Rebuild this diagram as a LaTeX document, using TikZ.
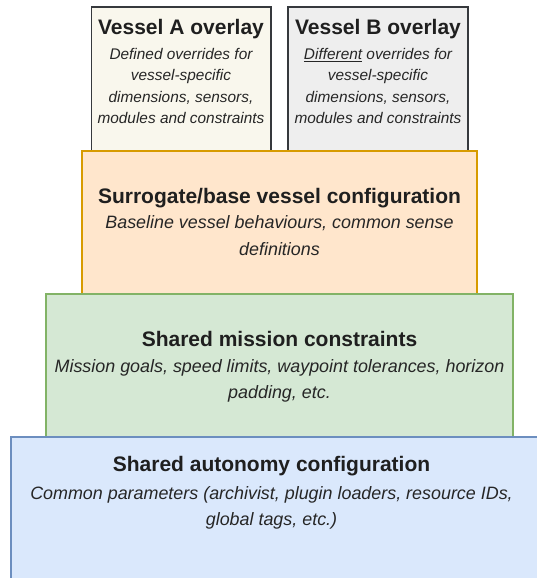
\documentclass[tikz,border=0pt]{standalone}
\usepackage{fontspec}
\setmainfont{Liberation Sans}
\definecolor{afill}{HTML}{F9F7ED}
\definecolor{bfill}{HTML}{EEEEEE}
\definecolor{vdraw}{HTML}{36393D}
\definecolor{ofill}{HTML}{FFE6CC}
\definecolor{odraw}{HTML}{D79B00}
\definecolor{gfill}{HTML}{D5E8D4}
\definecolor{gdraw}{HTML}{82B366}
\definecolor{lfill}{HTML}{DAE8FC}
\definecolor{ldraw}{HTML}{6C8EBF}
\tikzset{
  boxrect/.style={draw, line width=1.2pt, inner sep=0pt, outer sep=0pt},
  ttl/.style={inner sep=0pt, anchor=base, text=black!88, font=\fontsize{21}{25}\selectfont\bfseries},
  vbody/.style={inner sep=0pt, anchor=base, text=black!85, font=\fontsize{15.4}{21}\selectfont\itshape},
  lbody/.style={inner sep=0pt, anchor=base, text=black!85, font=\fontsize{17.9}{27}\selectfont\itshape},
}
\begin{document}
\begin{tikzpicture}[x=1pt,y=-1pt]
\useasboundingbox (0,0) rectangle (537,578);
\clip (0,0) rectangle (537,578);
% vessel boxes
\node[boxrect, fill=afill, draw=vdraw, minimum width=179.3pt, minimum height=144pt] (va) at (181.35,79) {};
\node[boxrect, fill=bfill, draw=vdraw, minimum width=180pt, minimum height=144pt] (vb) at (378,79) {};
% orange
\node[boxrect, fill=ofill, draw=odraw, minimum width=395pt, minimum height=143pt] (sur) at (279.5,222.5) {};
% green
\node[boxrect, fill=gfill, draw=gdraw, minimum width=467pt, minimum height=143pt] (mis) at (279.5,365.5) {};
% blue
\node[boxrect, fill=lfill, draw=ldraw, minimum width=536pt, minimum height=160pt] (aut) at (279,517) {};

% Vessel A text
\node[ttl] (vat) at (181,35) {Vessel A overlay};
\node[vbody] (va1) at (181,59.5) {Defined overrides for};
\node[vbody] (va2) at (181,80.8) {vessel-specific};
\node[vbody] (va3) at (181,102.1) {dimensions, sensors,};
\node[vbody] (va4) at (181,123.4) {modules and constraints};
% Vessel B text
\node[ttl] (vbt) at (378,35) {Vessel B overlay};
\node[vbody] (vb1) at (378,59.5) {\underline{Different} overrides for};
\node[vbody] (vb2) at (378,80.8) {vessel-specific};
\node[vbody] (vb3) at (378,102.1) {dimensions, sensors,};
\node[vbody] (vb4) at (378,123.4) {modules and constraints};
% Surrogate text
\node[ttl] (surt) at (279.5,203.3) {Surrogate/base vessel configuration};
\node[lbody] (sur1) at (279.5,228.5) {Baseline vessel behaviours, common sense};
\node[lbody] (sur2) at (279.5,255) {definitions};
% Mission text
\node[ttl] (mist) at (279.5,346.7) {Shared mission constraints};
\node[lbody] (mis1) at (279.5,372.5) {Mission goals, speed limits, waypoint tolerances, horizon};
\node[lbody] (mis2) at (279.5,398.5) {padding, etc.};
% Autonomy text
\node[ttl] (autt) at (271.5,471.7) {Shared autonomy configuration};
\node[lbody] (aut1) at (271.5,499) {Common parameters (archivist, plugin loaders, resource IDs,};
\node[lbody] (aut2) at (271.5,525) {global tags, etc.)};
\end{tikzpicture}
\end{document}
